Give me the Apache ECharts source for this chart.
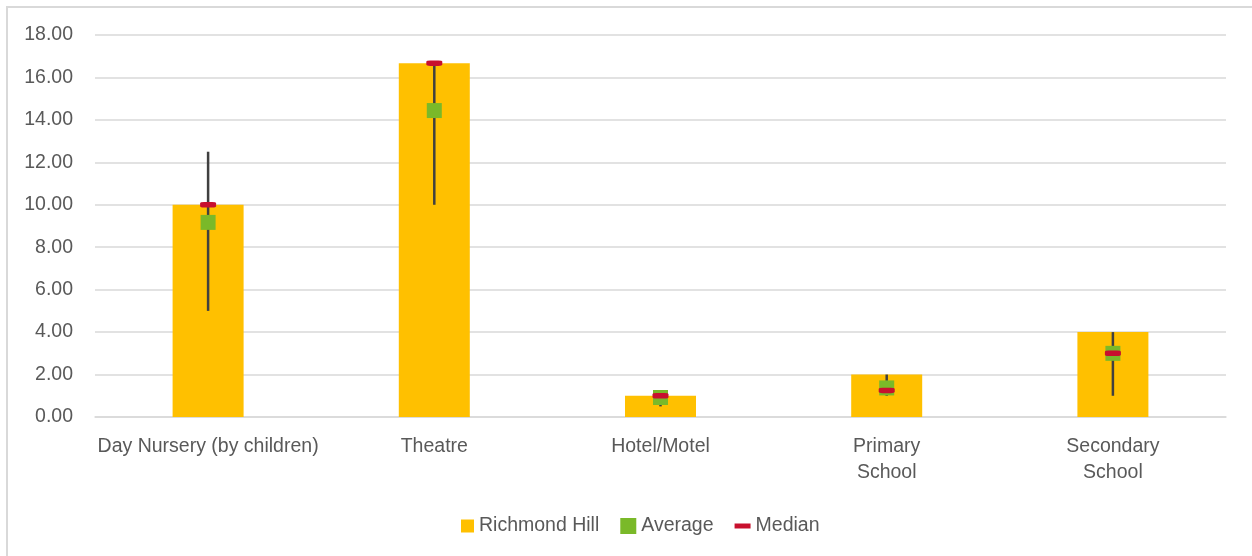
<!DOCTYPE html>
<html><head><meta charset="utf-8">
<script src="https://cdn.jsdelivr.net/npm/echarts@6/dist/echarts.min.js"></script>
<style>html,body{margin:0;padding:0;background:#fff}#c{width:1252px;height:556px}</style>
</head><body><div id="c"></div>
<script>
const categories = ['Day Nursery (by children)', 'Theatre', 'Hotel/Motel', 'Primary\nSchool', 'Secondary\nSchool'];
const richmondHill = [10, 16.67, 1, 2, 4];
const average = [9.17, 14.44, 0.92, 1.37, 3.0];
const median = [10, 16.67, 1.0, 1.25, 3.0];
const rangeMin = [5, 10, 0.5, 1, 1];
const rangeMax = [12.5, 16.67, 1, 2, 4];
const yMin = 0, yMax = 18, yStep = 2;

const regular = "'Liberation Sans', Arial, sans-serif";
const textColor = '#595959';

const chart = echarts.init(document.getElementById('c'), null, {renderer: 'canvas'});
chart.setOption({
  animation: false,
  backgroundColor: '#fff',
  graphic: [{
    type: 'rect', silent: true, z: -1,
    shape: {x: 7, y: 7, width: 1400, height: 800},
    style: {fill: 'none', stroke: '#d9d9d9', lineWidth: 2}
  }],
  grid: {left: 95, right: 26, top: 35, bottom: 139},
  legend: {
    left: 453, top: 511,
    itemWidth: 16, itemHeight: 16, itemGap: 21,
    textStyle: {fontFamily: regular, fontSize: 19.5, color: textColor},
    data: [
      {name: 'Richmond Hill', icon: 'path://M0,0 M16,16 M3,1.5h13v13h-13z'},
      {name: 'Average', icon: 'path://M0,0 M16,16 M0,0h16v16h-16z'},
      {name: 'Median', icon: 'path://M0,0 M16,16 M0,5.5h16v5h-16z'}
    ]
  },
  xAxis: {
    type: 'category',
    data: categories,
    axisLine: {lineStyle: {color: '#d9d9d9', width: 1.5}},
    axisTick: {show: false},
    axisLabel: {interval: 0, fontFamily: regular, fontSize: 19.5, lineHeight: 26, color: textColor, margin: 17}
  },
  yAxis: {
    type: 'value', min: yMin, max: yMax, interval: yStep,
    axisLine: {show: false}, axisTick: {show: false},
    splitLine: {lineStyle: {color: '#d9d9d9', width: 1.5}},
    axisLabel: {fontFamily: regular, fontSize: 19.5, color: textColor, margin: 22,
      formatter: v => v.toFixed(2)}
  },
  series: [
    {
      name: 'Richmond Hill', type: 'bar', data: richmondHill, barWidth: 71, z: 2,
      itemStyle: {color: '#FFC000'}
    },
    {
      name: 'Range', type: 'custom', z: 3, silent: true,
      data: categories.map((c, i) => [i, rangeMin[i], rangeMax[i]]),
      renderItem: function (params, api) {
        const p1 = api.coord([api.value(0), api.value(1)]);
        const p2 = api.coord([api.value(0), api.value(2)]);
        return {
          type: 'line',
          shape: {x1: p1[0], y1: p1[1], x2: p2[0], y2: p2[1]},
          style: {stroke: '#404040', lineWidth: 2.5}
        };
      }
    },
    {
      name: 'Average', type: 'scatter', data: average, z: 4,
      symbol: 'rect', symbolSize: 15,
      itemStyle: {color: '#7AB929', opacity: 1}
    },
    {
      name: 'Median', type: 'scatter', data: median, z: 5,
      symbol: 'roundRect', symbolSize: [16, 5.5],
      itemStyle: {color: '#C8102E', opacity: 1}
    }
  ]
});
</script>
</body></html>
